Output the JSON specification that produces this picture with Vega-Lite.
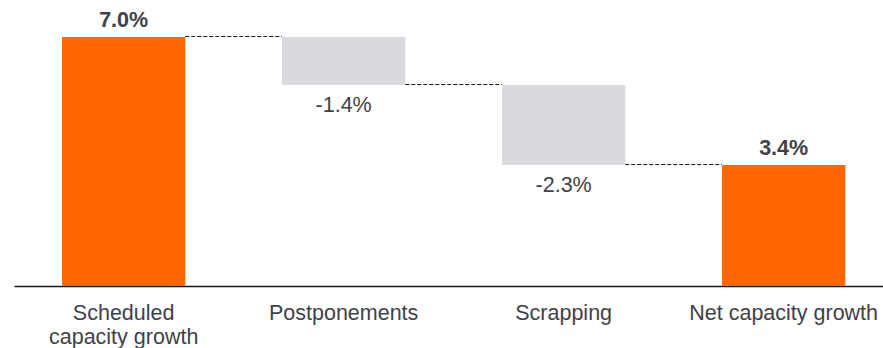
{
  "$schema": "https://vega.github.io/schema/vega-lite/v6.json",
  "width": 869,
  "height": 249,
  "autosize": {"type": "none"},
  "padding": {"left": 14, "top": 37, "right": 0, "bottom": 62},
  "background": "white",
  "config": {"view": {"stroke": null}, "font": "Liberation Sans"},
  "datasets": {
    "bars": [
      {"cat": "Scheduled capacity growth", "start": 0, "end": 7.0, "label": "7.0%", "kind": "total"},
      {"cat": "Postponements", "start": 7.0, "end": 5.65, "label": "-1.4%", "kind": "delta"},
      {"cat": "Scrapping", "start": 5.65, "end": 3.4, "label": "-2.3%", "kind": "delta"},
      {"cat": "Net capacity growth", "start": 0, "end": 3.4, "label": "3.4%", "kind": "total"}
    ],
    "links": [
      {"from": "Scheduled capacity growth", "to": "Postponements", "level": 7.0},
      {"from": "Postponements", "to": "Scrapping", "level": 5.65},
      {"from": "Scrapping", "to": "Net capacity growth", "level": 3.4}
    ]
  },
  "encoding": {
    "x": {
      "field": "cat",
      "type": "nominal",
      "sort": null,
      "scale": {
        "domain": ["Scheduled capacity growth", "Postponements", "Scrapping", "Net capacity growth"],
        "paddingInner": 0.44,
        "paddingOuter": 0.195,
        "align": 0.56
      },
      "axis": {
        "title": null,
        "labelAngle": 0,
        "ticks": false,
        "domainColor": "#1a1a1a",
        "domainWidth": 1.3,
        "labelFont": "Liberation Sans",
        "labelFontSize": 21.5,
        "labelColor": "#41414a",
        "labelPadding": 16,
        "labelLineHeight": 24,
        "labelLimit": 400,
        "labelExpr": "datum.label == 'Scheduled capacity growth' ? ['Scheduled', 'capacity growth'] : datum.label"
      }
    }
  },
  "layer": [
    {
      "data": {"name": "bars"},
      "mark": {"type": "bar"},
      "encoding": {
        "y": {"field": "start", "type": "quantitative", "scale": {"domain": [0, 7], "nice": false, "zero": true}, "axis": null},
        "y2": {"field": "end"},
        "color": {
          "field": "kind",
          "type": "nominal",
          "scale": {"domain": ["total", "delta"], "range": ["#ff6600", "#d9d9de"]},
          "legend": null
        }
      }
    },
    {
      "data": {"name": "links"},
      "mark": {"type": "rule", "strokeDash": [4, 2], "stroke": "#111111", "strokeWidth": 1, "xOffset": 61.6, "x2Offset": -61.6, "yOffset": -0.5},
      "encoding": {
        "x": {"field": "from", "type": "nominal"},
        "x2": {"field": "to"},
        "y": {"field": "level", "type": "quantitative"}
      }
    },
    {
      "data": {"name": "bars"},
      "transform": [{"filter": "datum.kind == 'total'"}],
      "mark": {"type": "text", "font": "Liberation Sans", "fontSize": 21.5, "fontWeight": "bold", "color": "#41414a", "baseline": "alphabetic", "dy": -10},
      "encoding": {
        "y": {"field": "end", "type": "quantitative"},
        "text": {"field": "label"}
      }
    },
    {
      "data": {"name": "bars"},
      "transform": [{"filter": "datum.kind == 'delta'"}],
      "mark": {"type": "text", "font": "Liberation Sans", "fontSize": 21.5, "color": "#41414a", "baseline": "alphabetic", "dy": 27},
      "encoding": {
        "y": {"field": "end", "type": "quantitative"},
        "text": {"field": "label"}
      }
    }
  ]
}
